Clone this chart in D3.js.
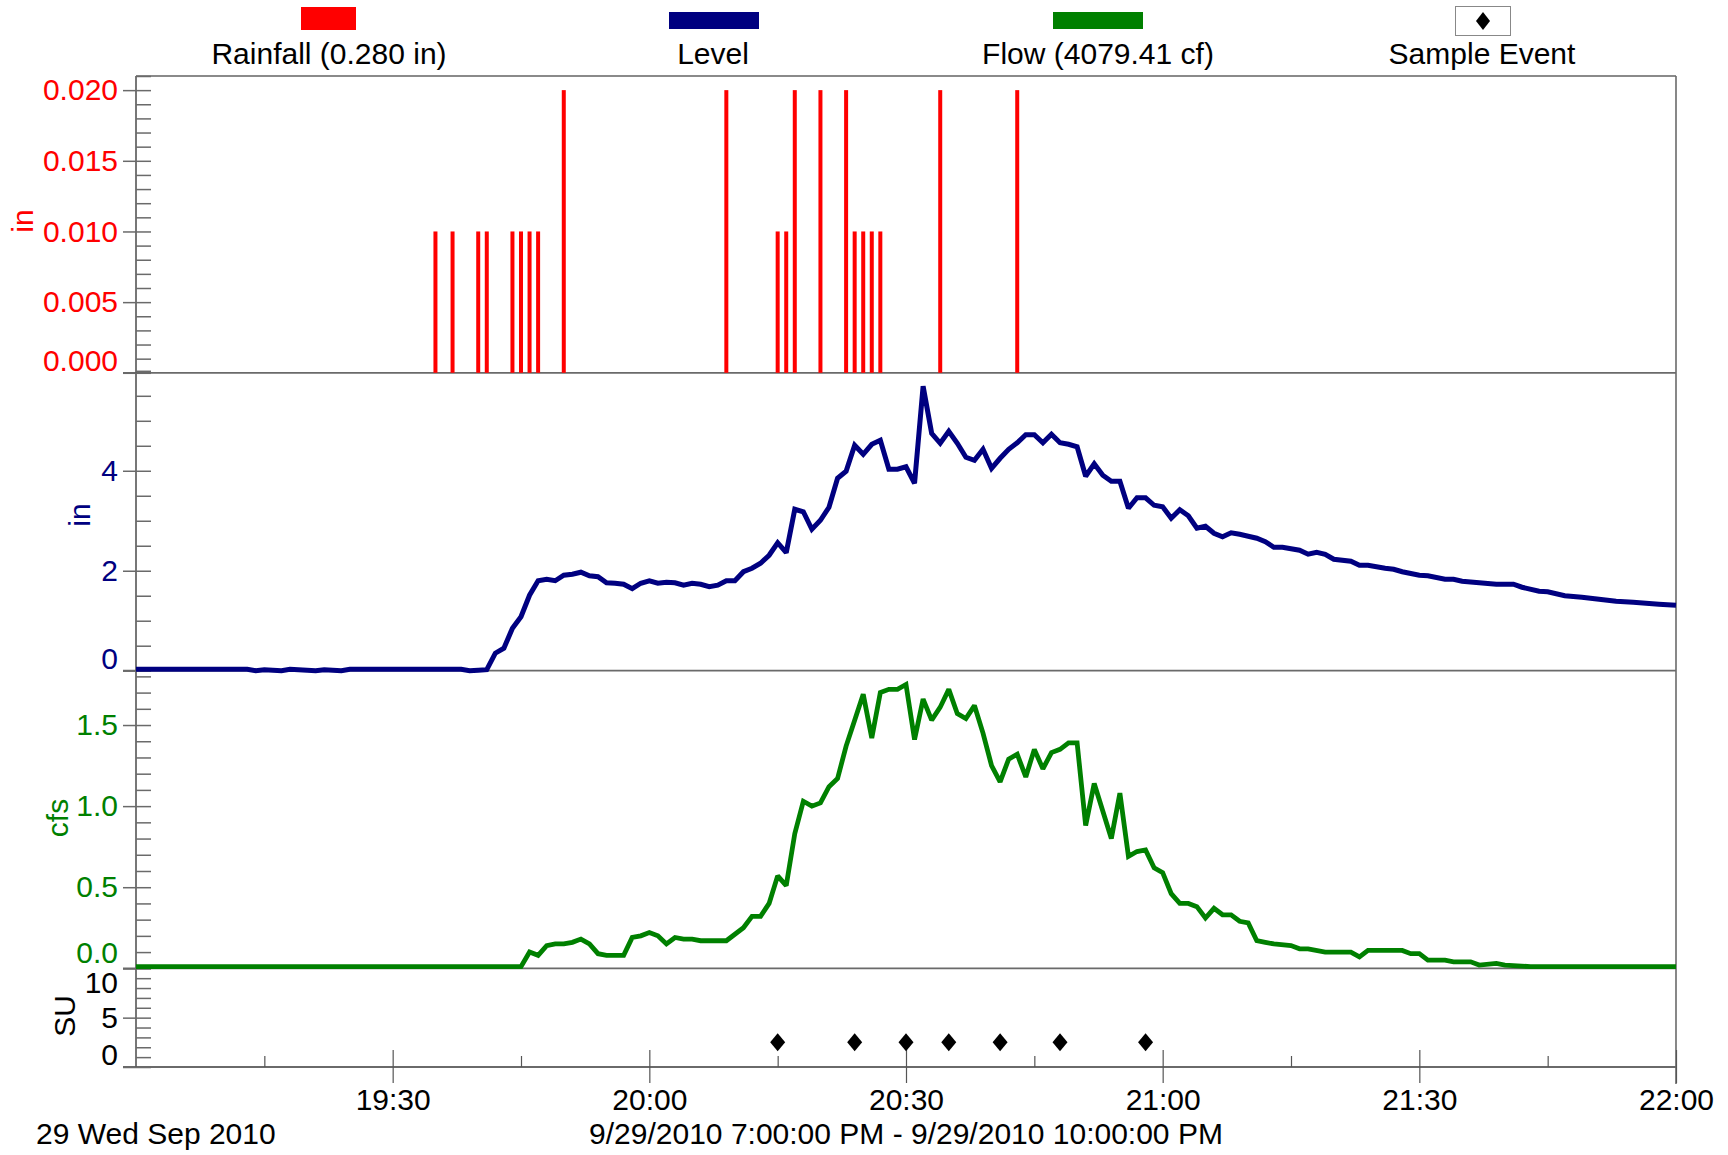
<!DOCTYPE html>
<html>
<head>
<meta charset="utf-8">
<script src="https://cdn.jsdelivr.net/npm/d3@7"></script>
<style>
  html, body { margin: 0; padding: 0; background: #fff; }
  svg text { font-family: "Liberation Sans", Arial, sans-serif; }
</style>
</head>
<body>
<svg id="chart" width="1728" height="1155"></svg>
<script>
// ---- data ---------------------------------------------------------------
const day = "2010-09-29";

// rain gauge tips (in)
const rainTimes  = ["19:35","19:37","19:40","19:41","19:44","19:45","19:46","19:47","19:50",
                    "20:09","20:15","20:16","20:17","20:20","20:23","20:24","20:25","20:26","20:27",
                    "20:34","20:43"];
const rainValues = [0.01,0.01,0.01,0.01,0.01,0.01,0.01,0.01,0.02,
                    0.02,0.01,0.01,0.02,0.02,0.02,0.01,0.01,0.01,0.01,
                    0.02,0.02];

// water level (in)
const levelReadings = [
  ["19:00",0.03],["19:13",0.03],["19:14",0.00],["19:15",0.02],["19:17",0.00],["19:18",0.03],
  ["19:21",0.00],["19:22",0.02],["19:24",0.00],["19:25",0.03],["19:38",0.03],["19:39",0.00],
  ["19:40",0.01],["19:41",0.02],["19:42",0.35],["19:43",0.45],["19:44",0.85],["19:45",1.08],
  ["19:46",1.51],["19:47",1.80],["19:48",1.83],["19:49",1.80],["19:50",1.91],["19:51",1.93],
  ["19:52",1.97],["19:53",1.90],["19:54",1.88],["19:55",1.76],["19:56",1.75],["19:57",1.73],
  ["19:58",1.64],["19:59",1.75],["20:00",1.80],["20:01",1.75],["20:02",1.77],["20:03",1.76],
  ["20:04",1.71],["20:05",1.75],["20:06",1.73],["20:07",1.68],["20:08",1.71],["20:09",1.80],
  ["20:10",1.80],["20:11",1.98],["20:12",2.05],["20:13",2.15],["20:14",2.31],["20:15",2.56],
  ["20:16",2.36],["20:17",3.23],["20:18",3.18],["20:19",2.83],["20:20",3.01],["20:21",3.27],
  ["20:22",3.85],["20:23",3.99],["20:24",4.51],["20:25",4.33],["20:26",4.53],["20:27",4.61],
  ["20:28",4.03],["20:29",4.03],["20:30",4.08],["20:31",3.75],["20:32",5.69],["20:33",4.75],
  ["20:34",4.55],["20:35",4.79],["20:36",4.55],["20:37",4.27],["20:38",4.21],["20:39",4.43],
  ["20:40",4.05],["20:41",4.25],["20:42",4.43],["20:43",4.56],["20:44",4.72],["20:45",4.72],
  ["20:46",4.56],["20:47",4.73],["20:48",4.56],["20:49",4.53],["20:50",4.48],["20:51",3.89],
  ["20:52",4.14],["20:53",3.91],["20:54",3.79],["20:55",3.79],["20:56",3.25],["20:57",3.46],
  ["20:58",3.46],["20:59",3.31],["21:00",3.28],["21:01",3.05],["21:02",3.22],["21:03",3.10],
  ["21:04",2.85],["21:05",2.89],["21:06",2.75],["21:07",2.68],["21:08",2.76],["21:09",2.73],
  ["21:10",2.69],["21:11",2.65],["21:12",2.58],["21:13",2.47],["21:14",2.47],["21:16",2.41],
  ["21:17",2.33],["21:18",2.37],["21:19",2.33],["21:20",2.23],["21:22",2.19],["21:23",2.11],
  ["21:24",2.11],["21:26",2.05],["21:27",2.03],["21:28",1.98],["21:30",1.91],["21:31",1.90],
  ["21:33",1.83],["21:34",1.83],["21:35",1.79],["21:37",1.76],["21:39",1.73],["21:41",1.73],
  ["21:42",1.67],["21:44",1.59],["21:45",1.58],["21:47",1.50],["21:49",1.47],["21:51",1.43],
  ["21:53",1.39],["21:55",1.37],["21:58",1.33],["22:00",1.31]
];

// flow (cfs)
const flowReadings = [
  ["19:00",0.01],["19:45",0.01],["19:46",0.10],["19:47",0.08],["19:48",0.14],["19:49",0.15],
  ["19:50",0.15],["19:51",0.16],["19:52",0.18],["19:53",0.15],["19:54",0.09],["19:55",0.08],
  ["19:56",0.08],["19:57",0.08],["19:58",0.19],["19:59",0.20],["20:00",0.22],["20:01",0.20],
  ["20:02",0.15],["20:03",0.19],["20:04",0.18],["20:05",0.18],["20:06",0.17],["20:07",0.17],
  ["20:08",0.17],["20:09",0.17],["20:10",0.21],["20:11",0.25],["20:12",0.32],["20:13",0.32],
  ["20:14",0.40],["20:15",0.57],["20:16",0.51],["20:17",0.83],["20:18",1.03],["20:19",1.00],
  ["20:20",1.02],["20:21",1.12],["20:22",1.17],["20:23",1.37],["20:24",1.53],["20:25",1.69],
  ["20:26",1.42],["20:27",1.70],["20:28",1.72],["20:29",1.72],["20:30",1.75],["20:31",1.41],
  ["20:32",1.66],["20:33",1.53],["20:34",1.61],["20:35",1.72],["20:36",1.57],["20:37",1.54],
  ["20:38",1.62],["20:39",1.45],["20:40",1.25],["20:41",1.15],["20:42",1.29],["20:43",1.32],
  ["20:44",1.18],["20:45",1.35],["20:46",1.23],["20:47",1.33],["20:48",1.35],["20:49",1.39],
  ["20:50",1.39],["20:51",0.88],["20:52",1.14],["20:53",0.97],["20:54",0.80],["20:55",1.08],
  ["20:56",0.69],["20:57",0.72],["20:58",0.73],["20:59",0.62],["21:00",0.59],["21:01",0.46],
  ["21:02",0.40],["21:03",0.40],["21:04",0.38],["21:05",0.31],["21:06",0.37],["21:07",0.33],
  ["21:08",0.33],["21:09",0.29],["21:10",0.28],["21:11",0.17],["21:12",0.16],["21:13",0.15],
  ["21:15",0.14],["21:16",0.12],["21:17",0.12],["21:19",0.10],["21:22",0.10],["21:23",0.07],
  ["21:24",0.11],["21:28",0.11],["21:29",0.09],["21:30",0.09],["21:31",0.05],["21:33",0.05],
  ["21:34",0.04],["21:36",0.04],["21:37",0.02],["21:39",0.03],["21:40",0.02],["21:43",0.01],
  ["22:00",0.01]
];

// sampler events (SU)
const sampleTimes  = ["20:15","20:24","20:30","20:35","20:41","20:48","20:58"];
const sampleValues = [2.5,2.5,2.5,2.5,2.5,2.5,2.5];

// axis ticks and labels
const xMajorTicks = ["19:30","20:00","20:30","21:00","21:30","22:00"];
const xMinorTicks = ["19:15","19:45","20:15","20:45","21:15","21:45"];
const rainTicks   = [0, 0.005, 0.010, 0.015, 0.020];
const levelTicks  = [0, 2, 4];
const flowTicks   = [0, 0.5, 1.0, 1.5];
const suTicks     = [0, 5, 10];
const legendLabels = ["Rainfall (0.280 in)", "Level", "Flow (4079.41 cf)", "Sample Event"];
const dateLabel  = "29 Wed Sep 2010";
const rangeLabel = "9/29/2010 7:00:00 PM - 9/29/2010 10:00:00 PM";

// ---- layout -------------------------------------------------------------
const FONT = 30;
const left = 136, right = 1676;
const RED = "#ff0000", NAVY = "#000080", GREEN = "#008000", AXIS = "#6a6a6a";

const parseTime = d3.timeParse("%Y-%m-%d %H:%M");
const t = s => parseTime(`${day} ${s}`);

const svg = d3.select("#chart");
svg.append("rect").attr("width", 1728).attr("height", 1155).attr("fill", "#fff");

const x = d3.scaleTime().domain([t("19:00"), t("22:00")]).range([left, right]);

const panels = {
  rain:  { top: 76,    bottom: 372.8, domain: [0, 0.021], ticks: rainTicks,  step: 0.001, fmt: d3.format(".3f"), color: RED },
  level: { top: 372.8, bottom: 670.7, domain: [0, 5.96],  ticks: levelTicks, step: 0.5,   fmt: d3.format("d"),   color: NAVY },
  flow:  { top: 670.7, bottom: 968.3, domain: [0, 1.835], ticks: flowTicks,  step: 0.1,   fmt: d3.format(".1f"), color: GREEN },
  su:    { top: 968.3, bottom: 1067,  domain: [0, 10],    ticks: suTicks,    step: 1,     fmt: d3.format("d"),   color: "#000" }
};
Object.values(panels).forEach(p => {
  p.y = d3.scaleLinear().domain(p.domain).range([p.bottom, p.top]);
});

// minor tick values along a panel's domain
function minorTicks(p) {
  const n = Math.round((p.domain[1] - p.domain[0]) / p.step + 1e-9);
  return d3.range(0, n + 1).map(i => +(p.domain[0] + i * p.step).toFixed(6));
}

// ---- panel frames ----------------------------------------------------------
const frame = svg.append("g");
// top border and right border
frame.append("line").attr("x1", left).attr("x2", right).attr("y1", 76).attr("y2", 76)
  .attr("stroke", "#8a8a8a").attr("stroke-width", 2);
frame.append("line").attr("x1", right).attr("x2", right).attr("y1", 76).attr("y2", 1084)
  .attr("stroke", AXIS).attr("stroke-width", 1.6);
// panel separators
[panels.rain.bottom, panels.level.bottom, panels.flow.bottom, panels.su.bottom].forEach(yy => {
  frame.append("line").attr("x1", 123).attr("x2", right).attr("y1", yy).attr("y2", yy)
    .attr("stroke", AXIS).attr("stroke-width", 1.8);
});
// left axis spine
frame.append("line").attr("x1", left).attr("x2", left).attr("y1", 76).attr("y2", 1067)
  .attr("stroke", "#555").attr("stroke-width", 1.6);

// ---- y axes ---------------------------------------------------------------
// labels sitting on a panel edge are nudged inward so neighbouring panels do not collide
const edgeShift = { rain: { 0: -12 }, level: { 0: -12 }, flow: { 0: -15 }, su: { 0: -12, 10: 15 } };

Object.entries(panels).forEach(([key, p]) => {
  // minor ticks inside the plot
  const gMinor = svg.append("g").attr("transform", `translate(${left},0)`)
    .call(d3.axisRight(p.y).tickValues(minorTicks(p)).tickSize(15).tickFormat(""));
  gMinor.select(".domain").remove();
  gMinor.selectAll(".tick line").attr("stroke", AXIS).attr("stroke-width", 1.5);

  // labelled major ticks outside the plot
  const gMajor = svg.append("g").attr("transform", `translate(${left},0)`)
    .call(d3.axisLeft(p.y).tickValues(p.ticks).tickSize(13).tickPadding(5).tickFormat(p.fmt));
  gMajor.select(".domain").remove();
  gMajor.selectAll(".tick line").attr("stroke", AXIS).attr("stroke-width", 1.5);
  gMajor.selectAll(".tick text")
    .attr("fill", p.color).attr("font-size", FONT)
    .attr("font-family", '"Liberation Sans", Arial, sans-serif')
    .attr("transform", d => `translate(0,${(edgeShift[key][d] || 0)})`);
});

// axis titles
const titles = [
  { text: "in",  x: 22, y: 221,  color: RED },
  { text: "in",  x: 79, y: 515,  color: NAVY },
  { text: "cfs", x: 57, y: 818,  color: GREEN },
  { text: "SU",  x: 64, y: 1016, color: "#000" }
];
svg.append("g").selectAll("text").data(titles).join("text")
  .attr("transform", d => `translate(${d.x},${d.y}) rotate(-90)`)
  .attr("text-anchor", "middle").attr("dy", "0.35em")
  .attr("font-size", FONT).attr("fill", d => d.color).text(d => d.text);

// ---- x axis ---------------------------------------------------------------
const xBase = panels.su.bottom;
const gxUp = svg.append("g").attr("transform", `translate(0,${xBase})`)
  .call(d3.axisTop(x).tickValues(xMajorTicks.map(t)).tickSize(17).tickFormat(""));
const gxMinor = svg.append("g").attr("transform", `translate(0,${xBase})`)
  .call(d3.axisTop(x).tickValues(xMinorTicks.map(t)).tickSize(11).tickFormat(""));
const gx = svg.append("g").attr("transform", `translate(0,${xBase})`)
  .call(d3.axisBottom(x).tickValues(xMajorTicks.map(t)).tickSize(16).tickPadding(6)
        .tickFormat(d3.timeFormat("%H:%M")));
[gxUp, gxMinor, gx].forEach(g => {
  g.select(".domain").remove();
  g.selectAll(".tick line").attr("stroke", "#555").attr("stroke-width", 1.2);
});
gx.selectAll(".tick text").attr("fill", "#000").attr("font-size", FONT)
  .attr("font-family", '"Liberation Sans", Arial, sans-serif');

svg.append("text").attr("x", 36).attr("y", 1144).attr("font-size", FONT).attr("fill", "#000").text(dateLabel);
svg.append("text").attr("x", 906).attr("y", 1144).attr("text-anchor", "middle")
  .attr("font-size", FONT).attr("fill", "#000").text(rangeLabel);

// ---- rainfall bars ----------------------------------------------------------
const pr = panels.rain;
svg.append("g").selectAll("rect").data(rainTimes.map((s, i) => ({ time: t(s), value: rainValues[i] })))
  .join("rect")
  .attr("x", d => x(d.time) - 2)
  .attr("width", 4)
  .attr("y", d => pr.y(d.value))
  .attr("height", d => pr.y(0) - pr.y(d.value))
  .attr("fill", RED);

// ---- level line -------------------------------------------------------------
const pl = panels.level;
svg.append("path")
  .datum(levelReadings.map(([s, v]) => ({ time: t(s), value: v })))
  .attr("fill", "none").attr("stroke", NAVY).attr("stroke-width", 5)
  .attr("stroke-linejoin", "miter").attr("stroke-miterlimit", 2)
  .attr("d", d3.line().x(d => x(d.time)).y(d => pl.y(d.value)));

// ---- flow line ---------------------------------------------------------------
const pf = panels.flow;
svg.append("path")
  .datum(flowReadings.map(([s, v]) => ({ time: t(s), value: v })))
  .attr("fill", "none").attr("stroke", GREEN).attr("stroke-width", 4.8)
  .attr("stroke-linejoin", "miter").attr("stroke-miterlimit", 2)
  .attr("d", d3.line().x(d => x(d.time)).y(d => pf.y(d.value)));

// ---- sample events -----------------------------------------------------------
const ps = panels.su;
const diamond = (w, h) => `M0,${-h}L${w},0L0,${h}L${-w},0Z`;
svg.append("g").selectAll("path").data(sampleTimes.map((s, i) => ({ time: t(s), value: sampleValues[i] })))
  .join("path")
  .attr("transform", d => `translate(${x(d.time)},${ps.y(d.value)})`)
  .attr("d", diamond(7.5, 9)).attr("fill", "#000");

// ---- legend -----------------------------------------------------------------
const legend = svg.append("g");
const legendItems = [
  { label: legendLabels[0], cx: 329,  swatch: { x: 301,  y: 7,  w: 55, h: 23 }, color: RED },
  { label: legendLabels[1], cx: 713,  swatch: { x: 669,  y: 12, w: 90, h: 17 }, color: NAVY },
  { label: legendLabels[2], cx: 1098, swatch: { x: 1053, y: 12, w: 90, h: 17 }, color: GREEN },
  { label: legendLabels[3], cx: 1482, swatch: null, color: "#000" }
];
legendItems.forEach(item => {
  if (item.swatch) {
    legend.append("rect").attr("x", item.swatch.x).attr("y", item.swatch.y)
      .attr("width", item.swatch.w).attr("height", item.swatch.h).attr("fill", item.color);
  } else {
    legend.append("rect").attr("x", 1455.5).attr("y", 6.5).attr("width", 55).attr("height", 29)
      .attr("fill", "#fff").attr("stroke", "#888").attr("stroke-width", 1);
    legend.append("path").attr("transform", "translate(1483,21)").attr("d", diamond(7, 9)).attr("fill", "#000");
  }
  legend.append("text").attr("x", item.cx).attr("y", 64).attr("text-anchor", "middle")
    .attr("font-size", FONT).attr("fill", "#000").text(item.label);
});
</script>
</body>
</html>
